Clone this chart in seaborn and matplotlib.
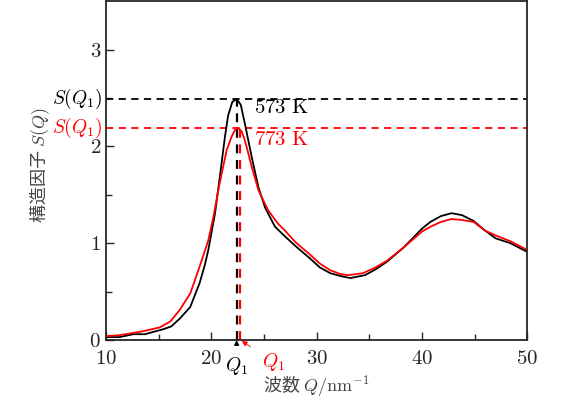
import numpy as np
import pandas as pd
import seaborn as sns
import matplotlib
matplotlib.use("Agg")
import matplotlib.pyplot as plt

# Strukturfaktor S(Q) bei zwei Temperaturen
q_573 = [10.0, 11.3, 12.6, 13.7, 15.4, 16.2, 17.0, 18.0, 18.9, 19.4, 19.72, 20.36, 20.83, 21.3,
         21.6, 22.0, 22.41, 22.8, 23.2, 23.84, 24.47, 25.1, 26.05, 27.0, 28.0, 29.4, 30.3, 31.3,
         32.3, 33.2, 34.6, 35.6, 36.7, 38.3, 40.0, 40.8, 41.8, 42.8, 43.8, 44.9, 46.0, 47.0,
         48.4, 50.0]
s_573 = [0.03, 0.03, 0.06, 0.06, 0.11, 0.14, 0.22, 0.34, 0.59, 0.78, 0.93, 1.31, 1.70, 2.10,
         2.32, 2.46, 2.49, 2.43, 2.23, 1.89, 1.58, 1.37, 1.17, 1.07, 0.97, 0.84, 0.75, 0.69,
         0.66, 0.64, 0.67, 0.73, 0.81, 0.96, 1.15, 1.22, 1.28, 1.31, 1.29, 1.23, 1.13, 1.05,
         1.00, 0.91]

q_773 = [10.0, 11.3, 13.5, 15.1, 16.1, 17.0, 18.0, 18.9, 19.72, 20.2, 20.67, 20.99, 21.46, 21.93,
         22.25, 22.57, 22.9, 23.2, 23.84, 24.47, 24.95, 25.4, 26.35, 27.0, 28.0, 29.4, 30.3, 31.3,
         32.3, 33.0, 34.4, 35.6, 36.7, 38.3, 40.0, 40.8, 41.8, 42.8, 43.8, 44.9, 46.0, 47.0,
         48.4, 50.0]
s_773 = [0.04, 0.05, 0.09, 0.13, 0.19, 0.31, 0.48, 0.76, 1.03, 1.27, 1.55, 1.72, 1.96, 2.10,
         2.17, 2.19, 2.15, 2.06, 1.79, 1.55, 1.44, 1.34, 1.20, 1.13, 1.01, 0.88, 0.79, 0.72,
         0.68, 0.67, 0.69, 0.75, 0.82, 0.96, 1.12, 1.17, 1.22, 1.25, 1.24, 1.22, 1.13, 1.08,
         1.02, 0.93]

peak_q = [22.41, 22.72]
peak_s = [2.49, 2.19]
labels = ["573 K", "773 K"]
colors = ["black", "red"]

sns.set_style("ticks")
plt.rcParams['font.family'] = ['Liberation Serif', 'Noto Sans CJK JP']
plt.rcParams['mathtext.fontset'] = 'cm'
plt.rcParams['xtick.direction'] = 'in'
plt.rcParams['ytick.direction'] = 'in'

df = pd.concat([
    pd.DataFrame({'Q': q_573, 'S': s_573, 'T': labels[0]}),
    pd.DataFrame({'Q': q_773, 'S': s_773, 'T': labels[1]}),
])

fig, ax = plt.subplots(figsize=(5.82, 4.0), dpi=100)
fig.subplots_adjust(left=0.182, right=0.906, bottom=0.15, top=0.997)

sns.lineplot(data=df, x='Q', y='S', hue='T', palette=colors, lw=1.3, ax=ax, legend=False)

# Gestrichelte Hilfslinien fuer die Peaks
for q, s, c in zip(peak_q, peak_s, colors):
    ax.axhline(s, color=c, ls=(0, (4, 3)), lw=1.3, zorder=1)
    ax.plot([q, q], [0, s], color=c, ls=(0, (4, 3)), lw=1.6, zorder=1)

ax.text(24.1, 2.39, r'$573\ \mathrm{K}$', color='black', fontsize=15, va='center')
ax.text(24.1, 2.06, r'$773\ \mathrm{K}$', color='red', fontsize=15, va='center')

ax.text(9.7, 2.49, r'$S(Q_1)$', color='black', fontsize=14, ha='right', va='center', clip_on=False)
ax.text(9.7, 2.19, r'$S(Q_1)$', color='red', fontsize=14, ha='right', va='center', clip_on=False)

ax.annotate(r'$Q_1$', xy=(peak_q[0], 0), xytext=(22.41, -0.27), color='black', fontsize=14,
            ha='center', va='center', annotation_clip=False,
            arrowprops=dict(arrowstyle='-|>', color='black', lw=0.6, mutation_scale=8,
                            shrinkA=7, shrinkB=0))
ax.annotate(r'$Q_1$', xy=(22.9, -0.01), xytext=(25.9, -0.23), color='red', fontsize=14,
            ha='center', va='center', annotation_clip=False,
            arrowprops=dict(arrowstyle='-|>', color='red', lw=0.6, mutation_scale=8,
                            shrinkA=7, shrinkB=0))

ax.set_xlim(10, 50)
ax.set_ylim(0, 3.5)
xt = [10, 20, 30, 40, 50]
yt = [0, 1, 2, 3]
ax.set_xticks(xt)
ax.set_xticklabels([f'${v}$' for v in xt])
ax.set_xticks([15, 25, 35, 45], minor=True)
ax.set_yticks(yt)
ax.set_yticklabels([f'${v}$' for v in yt])
ax.set_yticks([0.5, 1.5, 2.5], minor=True)
ax.tick_params(which='major', length=6, width=1, labelsize=15)
ax.tick_params(which='minor', length=4, width=1)
ax.tick_params(axis='x', pad=7)

ax.set_xlabel(r'波数 $Q/\mathrm{nm}^{-1}$', fontsize=13, color='#444444',
              family='Noto Sans CJK JP', va='center')
ax.xaxis.set_label_coords(0.5, -0.133)
ax.set_ylabel(r'構造因子 $S(Q)$', fontsize=13, color='#444444',
              family='Noto Sans CJK JP', va='center')
ax.yaxis.set_label_coords(-0.157, 0.515)
for sp in ax.spines.values():
    sp.set_linewidth(1.3)

fig.savefig('out.png', dpi=100)
